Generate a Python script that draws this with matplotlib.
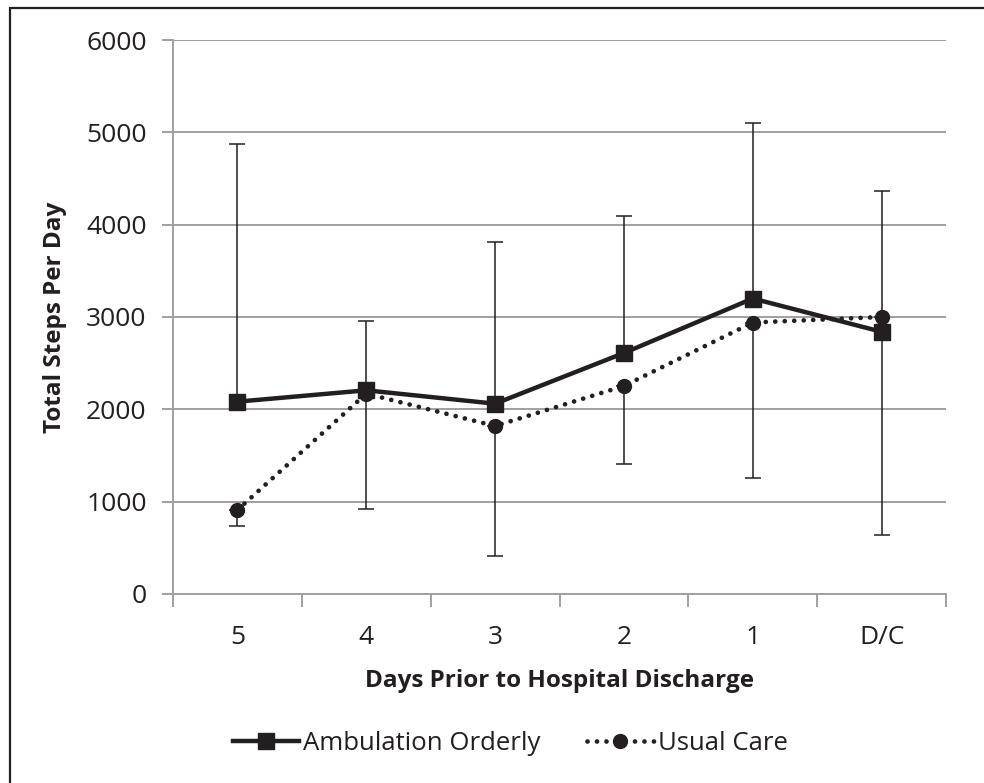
import matplotlib
matplotlib.use("Agg")
import matplotlib.pyplot as plt
from matplotlib.patches import Rectangle
import numpy as np

plt.rcParams.update({
    "font.family": ["Open Sans", "DejaVu Sans"],
    "font.size": 14,
})

days = ["5", "4", "3", "2", "1", "D/C"]
ambulation = [2083, 2206, 2061, 2610, 3200, 2840]
usual_care = [910, 2170, 1819, 2253, 2940, 3000]
# error bars: upper limit drawn from Ambulation Orderly, lower limit from Usual Care
upper_limit = [4874, 2953, 3809, 4090, 5100, 4364]
lower_limit = [733, 924, 408, 1412, 1260, 640]

GRID = "#a0a0a0"
INK = "#231f20"

fig = plt.figure(figsize=(9.84, 7.83), dpi=100)
ax = fig.add_axes([0.1758, 0.2414, 0.7856, 0.7075])

x = np.arange(len(days))
amb = np.array(ambulation)
uc = np.array(usual_care)

ax.errorbar(x, amb, yerr=[np.zeros(len(x)), np.array(upper_limit) - amb],
            fmt="none", ecolor=INK, elinewidth=1.1, capsize=6, capthick=1.1, zorder=2)
ax.errorbar(x, uc, yerr=[uc - np.array(lower_limit), np.zeros(len(x))],
            fmt="none", ecolor=INK, elinewidth=1.1, capsize=6, capthick=1.1, zorder=2)

ax.plot(x, amb, color=INK, linewidth=3.2, marker="s", markersize=11,
        label="Ambulation Orderly", zorder=4)
ax.plot(x, uc, color=INK, linewidth=3.4, linestyle=(0, (0.01, 2.0)),
        dash_capstyle="round", marker="o", markersize=10,
        label="Usual Care", zorder=3)

ax.set_xlim(-0.5, len(days) - 0.5)
ax.set_ylim(0, 6000)
ax.set_yticks(np.arange(0, 6001, 1000))
ax.set_xticks(x)
ax.set_xticklabels(days)
ax.set_xticks(np.arange(-0.5, len(days), 1.0), minor=True)
ax.grid(axis="y", color=GRID, linewidth=1.4)
ax.set_axisbelow(True)

for s in ["top", "right"]:
    ax.spines[s].set_visible(False)
for s in ["left", "bottom"]:
    ax.spines[s].set_color(GRID)
    ax.spines[s].set_linewidth(1.4)

ax.tick_params(axis="y", direction="out", length=8, width=1.4, color=GRID,
               labelsize=19, labelcolor=INK, pad=11)
ax.tick_params(axis="x", which="major", length=0, labelsize=19, labelcolor=INK, pad=22)
ax.tick_params(axis="x", which="minor", direction="out", length=9, width=1.4, color=GRID)

ax.set_ylabel("Total Steps Per Day", fontsize=17.5, fontweight="bold", color=INK,
              labelpad=14)
ax.set_xlabel("Days Prior to Hospital Discharge", fontsize=17.5, fontweight="bold",
              color=INK, labelpad=14)

ax.legend(loc="center", bbox_to_anchor=(0.436, -0.27), ncol=2, frameon=False,
          fontsize=18.5, handlelength=2.6, handletextpad=0.15, columnspacing=1.8,
          labelcolor=INK)

fig.patches.append(Rectangle((10 / 984, -0.05), 1.2, 1.05 - 8 / 783,
                             transform=fig.transFigure, fill=False,
                             edgecolor=INK, linewidth=1.6))

fig.savefig("out.png", dpi=100)
